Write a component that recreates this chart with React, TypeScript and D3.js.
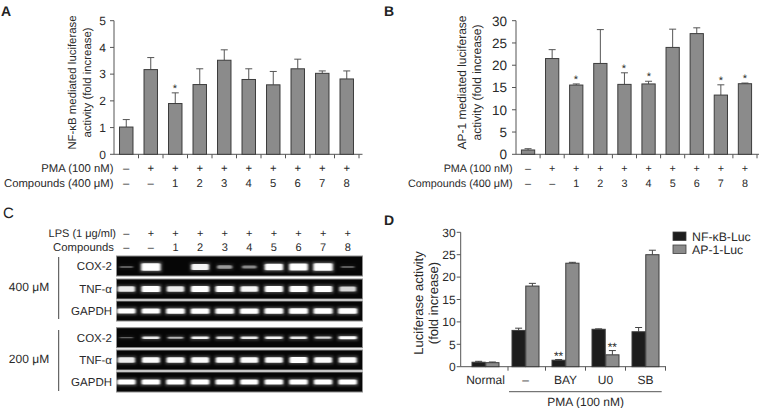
import React from 'react';
import * as d3 from 'd3';

// ---------- Data ----------
const pmaRow = ['–', '+', '+', '+', '+', '+', '+', '+', '+', '+'];
const compoundRow = ['–', '–', '1', '2', '3', '4', '5', '6', '7', '8'];

const nfkbMean = [1.02, 3.17, 1.9, 2.61, 3.52, 2.8, 2.6, 3.2, 3.03, 2.82];
const nfkbErrTop = [1.3, 3.62, 2.3, 3.2, 3.91, 3.2, 3.1, 3.56, 3.12, 3.12];
const nfkbSig = [false, false, true, false, false, false, false, false, false, false];

const ap1Mean = [0.97, 21.5, 15.55, 20.4, 15.7, 15.8, 24.0, 27.1, 13.3, 15.85];
const ap1ErrTop = [1.26, 23.5, 15.8, 28.0, 18.3, 16.4, 28.1, 28.4, 15.6, 16.0];
const ap1Sig = [false, false, true, false, true, true, false, false, true, true];

const aTicks = [0, 1, 2, 3, 4, 5];
const bTicks = [0, 5, 10, 15, 20, 25, 30];

// Gel (panel C): relative band intensities per lane
const lpsRow = ['–', '+', '+', '+', '+', '+', '+', '+', '+', '+'];
const gelCompoundRow = ['–', '–', '1', '2', '3', '4', '5', '6', '7', '8'];
const gelGroups = ['400 μM', '200 μM'];
const gelGenes = ['COX-2', 'TNF-α', 'GAPDH'];
const cox2_400 = [0.12, 1.0, 0.0, 0.75, 0.35, 0.28, 0.85, 0.9, 1.0, 0.12];
const tnf_400 = [0.7, 0.92, 0.7, 0.85, 0.85, 0.75, 0.85, 0.82, 0.88, 0.6];
const gapdh_400 = [0.88, 0.88, 0.9, 0.9, 0.9, 0.9, 0.92, 0.94, 0.94, 0.96];
const cox2_200 = [0.15, 0.7, 0.45, 0.75, 0.65, 0.7, 0.75, 0.7, 0.6, 0.85];
const tnf_200 = [0.7, 0.78, 0.78, 0.78, 0.78, 0.78, 0.78, 0.8, 0.78, 0.78];
const gapdh_200 = [0.88, 0.88, 0.88, 0.88, 0.85, 0.8, 0.88, 0.88, 0.85, 0.88];
const gelData = [
  [cox2_400, tnf_400, gapdh_400],
  [cox2_200, tnf_200, gapdh_200],
];

// Panel D
const dCategories = ['Normal', '–', 'BAY', 'U0', 'SB'];
const dSeries = ['NF-κB-Luc', 'AP-1-Luc'];
const dNfkbMean = [1.0, 8.1, 1.45, 8.35, 7.8];
const dNfkbErrTop = [1.2, 8.6, 1.6, 8.45, 8.75];
const dAp1Mean = [0.9, 18.0, 23.1, 2.65, 25.0];
const dAp1ErrTop = [1.05, 18.6, 23.3, 3.6, 26.0];
const dNfkbSig = ['', '', '**', '', ''];
const dAp1Sig = ['', '', '', '**', ''];
const dTicks = [0, 5, 10, 15, 20, 25, 30];

const FONT = "'Liberation Sans', Arial, Helvetica, sans-serif";
const TXT = '#2a2a2a';
const AX = '#555';
const BAR = '#8b8b8b';
const BAR_STROKE = '#3c3c3c';
const DARK = '#1d1d1d';

type BarPanelProps = {
  mean: number[];
  errTop: number[];
  sig: boolean[];
  ticks: number[];
  yMax: number;
  x0: number;
  x1: number;
  axisEnd: number;
  yTop: number;
  yBottom: number;
  tickFont: number;
  tickGap: number;
  rowFont: number;
  rowEnd: number;
  yLabel: string[];
  yLabelX: number[];
  yLabelCy: number;
  yLabelFont: number;
};

function BarPanel(p: BarPanelProps) {
  const idx = d3.range(p.mean.length).map(String);
  const x = d3.scaleBand<string>().domain(idx).range([p.x0, p.x1]).paddingInner(0).paddingOuter(0);
  const y = d3.scaleLinear().domain([0, p.yMax]).range([p.yBottom, p.yTop]);
  const bw = x.bandwidth() * 0.55;
  const cx = (i: number) => (x(String(i)) as number) + x.bandwidth() / 2;
  const axisX = p.x0;
  return (
    <g fontFamily={FONT}>
      <line x1={axisX} x2={axisX} y1={y(p.yMax)} y2={y(0)} stroke={AX} strokeWidth={1} />
      {p.ticks.map((t) => (
        <g key={t}>
          <line x1={axisX - 4} x2={axisX} y1={y(t)} y2={y(t)} stroke={AX} />
          <text x={axisX - p.tickGap} y={y(t)} dy="0.36em" textAnchor="end" fontSize={p.tickFont} fill={TXT}>
            {t}
          </text>
        </g>
      ))}
      <line x1={axisX} x2={p.axisEnd} y1={y(0)} y2={y(0)} stroke={AX} />
      {d3.range(1, p.mean.length + 1).map((i) => {
        const xx = i < p.mean.length ? (x(String(i)) as number) : p.x1;
        return <line key={i} x1={xx} x2={xx} y1={y(0)} y2={y(0) + 4} stroke={AX} />;
      })}
      {p.mean.map((v, i) => (
        <g key={i}>
          <line x1={cx(i)} x2={cx(i)} y1={y(v)} y2={y(p.errTop[i])} stroke="#555" strokeWidth={1} />
          <line x1={cx(i) - 3.5} x2={cx(i) + 3.5} y1={y(p.errTop[i])} y2={y(p.errTop[i])} stroke="#555" strokeWidth={1} />
          <rect x={cx(i) - bw / 2} y={y(v)} width={bw} height={y(0) - y(v)} fill={BAR} stroke={BAR_STROKE} strokeWidth={1} />
          {p.sig[i] && (
            <text
              x={Math.round(cx(i))}
              y={Math.round(y(p.errTop[i]) - 8)}
              dy="0.62em"
              textAnchor="middle"
              fontSize={11}
              fill={TXT}
            >
              *
            </text>
          )}
        </g>
      ))}
      <text x={p.rowEnd} y={168} dy="0.36em" textAnchor="end" fontSize={p.rowFont} fill={TXT}>
        PMA (100 nM)
      </text>
      <text x={p.rowEnd} y={183} dy="0.36em" textAnchor="end" fontSize={p.rowFont} fill={TXT}>
        Compounds (400 μM)
      </text>
      {pmaRow.map((s, i) => (
        <text key={'p' + i} x={cx(i)} y={168} dy="0.36em" textAnchor="middle" fontSize={p.rowFont} fill={TXT}>
          {s}
        </text>
      ))}
      {compoundRow.map((s, i) => (
        <text key={'c' + i} x={cx(i)} y={183} dy="0.36em" textAnchor="middle" fontSize={p.rowFont} fill={TXT}>
          {s}
        </text>
      ))}
      {p.yLabel.map((s, i) => (
        <text
          key={s}
          transform={`translate(${p.yLabelX[i]},${p.yLabelCy}) rotate(-90)`}
          textAnchor="middle"
          dy="0.36em"
          fontSize={p.yLabelFont}
          fill={TXT}
        >
          {s}
        </text>
      ))}
    </g>
  );
}

function GelPanel() {
  const lanes = d3.range(10).map(String);
  const x = d3.scaleBand<string>().domain(lanes).range([114, 360]);
  const cx = (i: number) => (x(String(i)) as number) + x.bandwidth() / 2;
  const rowTops = [
    [256, 279, 301],
    [327.7, 350, 372],
  ];
  const rowH = 20;
  const gelX0 = 116.5;
  const gelX1 = 362.5;
  const groupCy = [287, 359];
  const lineSpan = [
    [257, 319],
    [330, 391],
  ];
  const thick = [
    [[1.5, 6], [3, 3.5], [3, 2.5]],
    [[1, 2.2], [3, 3.5], [3, 2.5]],
  ];
  return (
    <g fontFamily={FONT}>
      <defs>
        <filter id="bandBlur" x="-30%" y="-150%" width="160%" height="400%">
          <feGaussianBlur stdDeviation="0.8 0.6" />
        </filter>
        <filter id="glowBlur" x="-40%" y="-200%" width="180%" height="500%">
          <feGaussianBlur stdDeviation="1.6 1.2" />
        </filter>
      </defs>
      <text x={116} y={233} dy="0.36em" textAnchor="end" fontSize={11} fill={TXT}>
        LPS (1 μg/ml)
      </text>
      <text x={114} y={247} dy="0.36em" textAnchor="end" fontSize={11.3} fill={TXT}>
        Compounds
      </text>
      {lpsRow.map((s, i) => (
        <text key={'l' + i} x={cx(i)} y={233} dy="0.36em" textAnchor="middle" fontSize={11} fill={TXT}>
          {s}
        </text>
      ))}
      {gelCompoundRow.map((s, i) => (
        <text key={'g' + i} x={cx(i)} y={247} dy="0.36em" textAnchor="middle" fontSize={11} fill={TXT}>
          {s}
        </text>
      ))}
      {gelGroups.map((g, gi) => (
        <g key={g}>
          <text x={29} y={groupCy[gi]} dy="0.36em" textAnchor="middle" fontSize={12} fill={TXT}>
            {g}
          </text>
          <line x1={58.7} x2={58.7} y1={lineSpan[gi][0]} y2={lineSpan[gi][1]} stroke="#444" strokeWidth={1} />
          {gelGenes.map((gene, ri) => {
            const top = rowTops[gi][ri];
            const vals = gelData[gi][ri];
            const bandY = top + rowH / 2 + (gi === 0 && ri === 0 ? 1 : 0);
            const [b0, b1] = thick[gi][ri];
            return (
              <g key={gene}>
                <text x={112} y={top + rowH / 2} dy="0.36em" textAnchor="end" fontSize={11.5} fill={TXT}>
                  {gene}
                </text>
                <rect x={gelX0} y={top} width={gelX1 - gelX0} height={rowH} fill="#060606" stroke="#8e8e8e" strokeWidth={1} />
                <g filter="url(#glowBlur)">
                  {vals.map((v, i) => {
                    if (v <= 0) return null;
                    const w = 15 + 7 * v;
                    const h = b0 + b1 * v + 3;
                    return (
                      <rect key={i} x={cx(i) - w / 2} y={bandY - h / 2} width={w} height={h} fill="#ffffff" fillOpacity={0.3 * v} />
                    );
                  })}
                </g>
                <g filter="url(#bandBlur)">
                  {vals.map((v, i) => {
                    if (v <= 0) return null;
                    const w = 13 + 6 * v;
                    const h = b0 + b1 * v;
                    return (
                      <rect
                        key={i}
                        x={cx(i) - w / 2}
                        y={bandY - h / 2}
                        width={w}
                        height={h}
                        rx={1.5}
                        fill="#ffffff"
                        fillOpacity={Math.min(1, 0.2 + v)}
                      />
                    );
                  })}
                </g>
              </g>
            );
          })}
        </g>
      ))}
    </g>
  );
}

function PanelD() {
  const y = d3.scaleLinear().domain([0, 30]).range([366.7, 232.3]);
  const x = d3.scaleBand<string>().domain(dCategories).range([465.5, 665.5]);
  const xs = d3.scaleBand<string>().domain(dSeries).range([0, 27]).paddingInner(0.04);
  const axisX = 460.7;
  const cx = (c: string) => (x(c) as number) + x.bandwidth() / 2;
  const series = [
    { name: dSeries[0], mean: dNfkbMean, err: dNfkbErrTop, sig: dNfkbSig, fill: DARK },
    { name: dSeries[1], mean: dAp1Mean, err: dAp1ErrTop, sig: dAp1Sig, fill: BAR },
  ];
  return (
    <g fontFamily={FONT}>
      <line x1={axisX} x2={axisX} y1={y(30)} y2={y(0)} stroke={AX} />
      {dTicks.map((t) => (
        <g key={t}>
          <line x1={axisX - 4} x2={axisX} y1={y(t)} y2={y(t)} stroke={AX} />
          <text x={axisX - 5} y={y(t)} dy="0.36em" textAnchor="end" fontSize={12} fill={TXT}>
            {t}
          </text>
        </g>
      ))}
      <line x1={axisX} x2={666} y1={y(0)} y2={y(0)} stroke={AX} />
      {dCategories.map((c, i) => {
        const xx = (x(c) as number) + x.step() + (i === 0 ? 2.5 : 0);
        return <line key={'t' + c} x1={xx} x2={xx} y1={y(0)} y2={y(0) + 4} stroke={AX} />;
      })}
      {dCategories.map((c, i) => (
        <g key={c}>
          {series.map((s) => {
            const bx = cx(c) - 13.5 + (xs(s.name) as number);
            const bw = xs.bandwidth();
            const mid = bx + bw / 2;
            return (
              <g key={s.name}>
                <line x1={mid} x2={mid} y1={y(s.mean[i])} y2={y(s.err[i])} stroke="#444" />
                <line x1={mid - 3.5} x2={mid + 3.5} y1={y(s.err[i])} y2={y(s.err[i])} stroke="#444" />
                <rect x={bx} y={y(s.mean[i])} width={bw} height={y(0) - y(s.mean[i])} fill={s.fill} stroke={BAR_STROKE} strokeWidth={1} />
                {s.sig[i] && (
                  <text x={mid} y={y(s.err[i]) - 7} dy="0.62em" textAnchor="middle" fontSize={12} fill={TXT}>
                    {s.sig[i]}
                  </text>
                )}
              </g>
            );
          })}
          <text x={cx(c)} y={380} dy="0.36em" textAnchor="middle" fontSize={12} fill={TXT}>
            {c}
          </text>
        </g>
      ))}
      <line x1={509} x2={661.7} y1={391.7} y2={391.7} stroke={AX} />
      <text x={585.7} y={401.7} dy="0.36em" textAnchor="middle" fontSize={12} fill={TXT}>
        PMA (100 nM)
      </text>
      <text transform={`translate(418,303) rotate(-90)`} textAnchor="middle" dy="0.36em" fontSize={13} fill={TXT}>
        Luciferase activity
      </text>
      <text transform={`translate(433,303) rotate(-90)`} textAnchor="middle" dy="0.36em" fontSize={13} fill={TXT}>
        (fold increase)
      </text>
      {series.map((s, i) => (
        <g key={'lg' + s.name}>
          <rect x={673} y={232 + i * 13} width={13} height={8.5} fill={s.fill} stroke={BAR_STROKE} strokeWidth={0.8} />
          <text x={692} y={236.3 + i * 13} dy="0.36em" fontSize={12.3} fill={TXT}>
            {s.name}
          </text>
        </g>
      ))}
    </g>
  );
}

export default function App() {
  return (
    <svg
      width={760}
      height={408}
      viewBox="0 0 760 408"
      textRendering="geometricPrecision"
      style={{ position: 'absolute', left: 0, top: 0, background: '#fff', WebkitFontSmoothing: 'antialiased' }}
    >
      <rect width={760} height={408} fill="#fff" />
      <g fontFamily={FONT} fontWeight="bold" fontSize={14} fill="#222">
        <text x={1} y={16}>A</text>
        <text x={384} y={16}>B</text>
        <text x={3} y={218} fontWeight="normal" fontSize={15}>C</text>
        <text x={384} y={225}>D</text>
      </g>
      <BarPanel
        mean={nfkbMean}
        errTop={nfkbErrTop}
        sig={nfkbSig}
        ticks={aTicks}
        yMax={5}
        x0={114}
        x1={359}
        axisEnd={362.5}
        yTop={20.7}
        yBottom={154.3}
        tickFont={12}
        tickGap={8}
        rowFont={11.3}
        rowEnd={113.5}
        yLabel={['NF-κB mediated luciferase', 'activity (fold increase)']}
        yLabelX={[72, 87]}
        yLabelCy={82.5}
        yLabelFont={11.4}
      />
      <BarPanel
        mean={ap1Mean}
        errTop={ap1ErrTop}
        sig={ap1Sig}
        ticks={bTicks}
        yMax={30}
        x0={516}
        x1={757}
        axisEnd={759}
        yTop={20.7}
        yBottom={154.3}
        tickFont={13.5}
        tickGap={9}
        rowFont={10.8}
        rowEnd={512.7}
        yLabel={['AP-1 mediated luciferase', 'activity (fold increase)']}
        yLabelX={[462, 477]}
        yLabelCy={82.5}
        yLabelFont={12}
      />
      <GelPanel />
      <PanelD />
    </svg>
  );
}
